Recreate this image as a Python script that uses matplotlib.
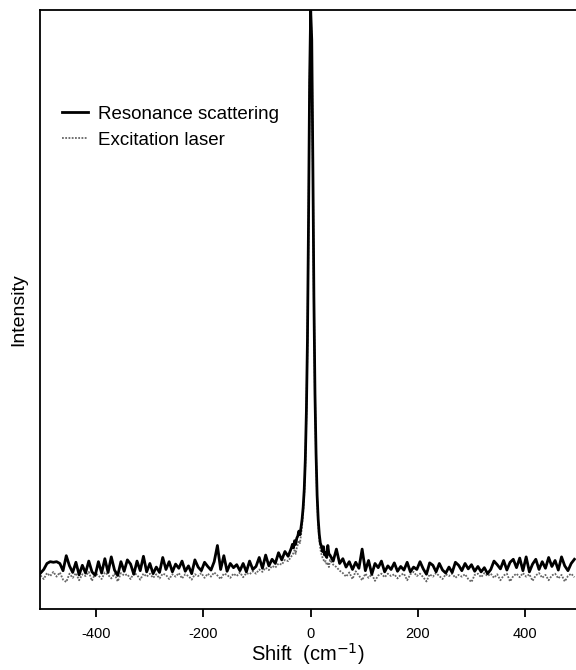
import numpy as np
import matplotlib
matplotlib.use("Agg")
import matplotlib.pyplot as plt

plt.rcParams['font.family'] = ['Liberation Sans', 'DejaVu Sans']
plt.rcParams['axes.unicode_minus'] = False

# Raman shift grid (cm^-1): coarse wings, finer through the line
shift_left = np.arange(-504, -35, 6)
shift_peak = np.arange(-34, 35, 2)
shift_right = np.arange(36, 493, 6)

# Resonance scattering (relative intensity)
res_left = [6.0, 6.6, 7.6, 7.9, 7.8, 7.9, 7.6, 6.4, 8.9, 7.2,
            6.1, 7.8, 5.7, 7.3, 6.0, 8.0, 6.2, 5.6, 7.9, 6.0,
            8.4, 6.1, 8.7, 6.5, 5.6, 7.9, 6.3, 8.2, 7.5, 5.8,
            8.0, 6.4, 8.8, 6.2, 7.6, 5.9, 7.0, 6.1, 8.6, 6.6,
            7.9, 6.2, 7.5, 6.8, 8.0, 6.3, 7.2, 5.9, 8.2, 7.0,
            6.4, 7.8, 7.1, 6.5, 7.9, 10.6, 6.6, 8.9, 6.3, 7.6,
            6.9, 7.4, 6.4, 7.6, 6.2, 8.0, 6.6, 7.1, 8.6, 6.8,
            9.0, 7.2, 8.3, 7.6, 9.4, 8.2, 9.6, 8.8, 10.2]
res_peak = [10.8, 10.2, 11.4, 10.8, 11.8, 12.2, 13.0, 12.4, 13.6, 15.0,
            17.0, 20.0, 25.0, 33.0, 45.0, 65.0, 88.0, 100.0, 95.0, 75.0,
            52.0, 36.0, 26.0, 19.0, 15.0, 12.5, 11.0, 10.5, 9.6, 10.4,
            9.0, 9.4, 8.6, 10.6, 9.2]
res_right = [9.0, 8.0, 10.0, 7.6, 8.4, 7.0, 7.9, 6.6, 7.8, 6.8,
             10.0, 6.4, 8.1, 5.8, 7.6, 6.9, 8.0, 6.2, 7.2, 6.6,
             7.7, 6.3, 7.1, 6.5, 7.8, 6.2, 7.0, 6.6, 7.9, 6.7,
             5.8, 7.7, 7.3, 6.2, 7.6, 6.5, 6.0, 7.0, 6.1, 7.8,
             7.3, 6.4, 7.6, 6.7, 7.4, 6.3, 7.1, 6.2, 6.9, 5.9,
             6.6, 8.0, 7.4, 6.7, 8.1, 6.5, 7.8, 8.3, 6.9, 8.5,
             6.4, 8.7, 6.2, 7.5, 8.3, 6.6, 7.9, 6.8, 8.6, 7.1,
             8.1, 6.5, 8.7, 7.2, 6.4, 7.6, 8.3]

# Excitation laser (relative intensity)
las_left = [5.6, 5.0, 6.0, 5.5, 6.2, 5.4, 6.1, 4.9, 4.5, 5.9,
            5.2, 6.0, 4.8, 5.8, 5.5, 6.2, 4.7, 6.0, 5.6, 5.0,
            6.1, 5.7, 5.1, 5.9, 4.6, 6.0, 5.6, 5.8, 5.0, 6.0,
            5.7, 4.9, 5.9, 5.4, 5.9, 5.2, 5.8, 5.1, 5.9, 5.7,
            5.0, 5.8, 5.4, 6.0, 5.1, 5.8, 5.5, 4.9, 5.8, 5.5,
            6.0, 5.2, 5.9, 5.4, 6.1, 5.6, 5.0, 5.9, 5.7, 5.2,
            5.9, 5.5, 6.1, 5.3, 6.0, 5.8, 6.3, 5.9, 6.6, 6.2,
            6.9, 6.5, 7.2, 6.9, 7.6, 7.4, 8.2, 8.0, 8.8]
las_peak = [9.0, 9.4, 9.8, 9.2, 10.2, 10.8, 11.4, 11.0, 12.4, 14.0,
            16.2, 19.2, 24.2, 32.5, 44.5, 64.5, 87.5, 99.5, 94.5, 74.5,
            51.5, 35.5, 25.5, 18.5, 14.2, 11.6, 10.0, 9.2, 8.6, 8.2,
            7.8, 8.0, 7.4, 7.6, 7.0]
las_right = [8.2, 7.4, 7.0, 6.4, 6.0, 5.4, 6.1, 5.0, 6.3, 5.6,
             4.8, 5.9, 5.2, 5.8, 4.7, 5.6, 5.9, 5.3, 5.9, 5.5,
             5.8, 5.1, 5.7, 5.9, 4.8, 5.8, 6.2, 5.5, 5.9, 5.3,
             4.6, 5.8, 5.4, 6.0, 5.5, 5.0, 5.8, 5.5, 5.9, 5.2,
             5.7, 5.4, 5.8, 5.0, 4.5, 5.7, 5.9, 5.3, 6.0, 5.5,
             5.9, 5.2, 5.8, 4.8, 5.6, 5.9, 4.6, 5.5, 5.9, 5.3,
             6.0, 5.4, 5.8, 4.7, 5.6, 6.0, 5.2, 5.7, 4.8, 5.6,
             5.9, 5.1, 5.7, 4.6, 5.5, 5.9, 5.3]

shift = np.concatenate([shift_left, shift_peak, shift_right])
resonance = np.concatenate([res_left, res_peak, res_right])
laser = np.concatenate([las_left, las_peak, las_right])

fig = plt.figure(figsize=(5.76, 6.70), dpi=100)
ax = fig.add_axes([40 / 576, 61 / 670, 536 / 576, 599 / 670])

ax.plot(shift, laser, color='#666666', lw=1.3, ls=(0, (1, 0.8)),
        label='Excitation laser', zorder=2)
ax.plot(shift, resonance, color='black', lw=2.0,
        label='Resonance scattering', zorder=3)

ax.set_xlim(-505, 495)
ax.set_ylim(0, 100)
ax.set_xticks([-400, -200, 0, 200, 400])
ax.set_yticks([])
ax.tick_params(axis='x', direction='out', length=6, width=1.3,
               labelsize=10.5, pad=7)
ax.spines['right'].set_visible(False)
for side in ('left', 'top', 'bottom'):
    ax.spines[side].set_linewidth(1.3)

ax.set_xlabel('Shift  (cm$^{-1}$)', fontsize=14.5, labelpad=0)
ax.set_ylabel('Intensity', fontsize=14, labelpad=9)

handles, labels = ax.get_legend_handles_labels()
ax.legend(handles[::-1], labels[::-1], loc='upper left',
          bbox_to_anchor=(0.041, 0.84), frameon=False, fontsize=13.5,
          handlelength=1.4, handletextpad=0.5, labelspacing=0.45,
          borderpad=0, borderaxespad=0)

fig.savefig('out.png', dpi=100)
